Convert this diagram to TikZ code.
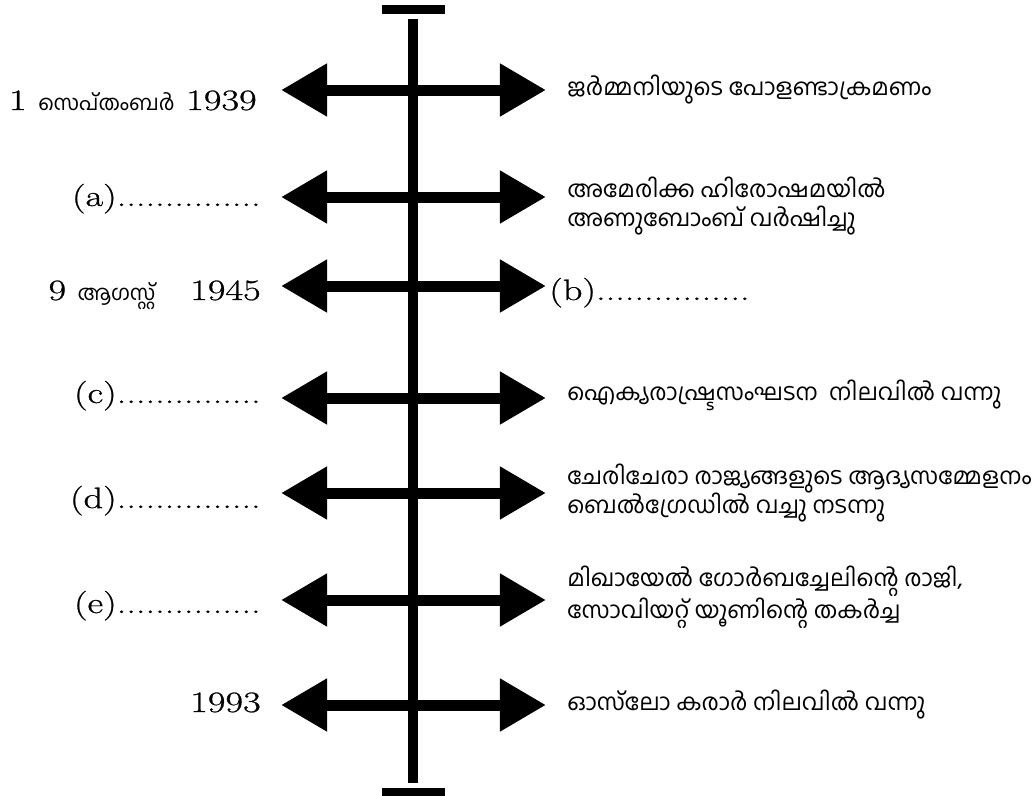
\documentclass[tikz,border=0pt]{standalone}
\usepackage{fontspec}
\setmainfont{Latin Modern Roman}[FakeStretch=1.3,FakeBold=0.8]
\newfontfamily\malfont[Script=Malayalam]{Hind Kochi}
\usetikzlibrary{arrows.meta}
\begin{document}
\begin{tikzpicture}[x=0.025cm,y=-0.025cm]
			\tikzstyle{fleche}=[{Triangle[length=1.15cm,width=1.25cm]}-{Triangle[length=1.15cm,width=1.25cm]},line width=0.275cm]
			\tikzstyle{axe}=[line width=0.24cm]
			\tikzstyle{date}=[anchor=base east,inner sep=0pt,font=\fontsize{21}{25}\selectfont]
			\tikzstyle{evenement}=[anchor=west,inner sep=0pt,align=left,font=\malfont\fontsize{16.5}{21}\selectfont]
			\def\Gauche{281}\def\Droite{546}\def\TexteG{261}\def\TexteD{567}
			\def\mois#1{{\malfont\fontsize{15}{18}\selectfont #1}}
			%
			\useasboundingbox (0,0) rectangle (1034,796);
			\fill (382,5) rectangle (445,14);
			\fill (382,788) rectangle (445,796);
			\coordinate (Haut) at (413,19);
			\coordinate (Bas) at (413,783);
			\draw[axe] (Haut)--(Bas);
			%
			\coordinate (G1) at (\Gauche,90);\coordinate (D1) at (\Droite,90);
			\coordinate (G2) at (\Gauche,197);\coordinate (D2) at (\Droite,197);
			\coordinate (G3) at (\Gauche,286);\coordinate (D3) at (\Droite,286);
			\coordinate (G4) at (\Gauche,398);\coordinate (D4) at (\Droite,398);
			\coordinate (G5) at (\Gauche,493);\coordinate (D5) at (\Droite,493);
			\coordinate (G6) at (\Gauche,600);\coordinate (D6) at (\Droite,600);
			\coordinate (G7) at (\Gauche,705);\coordinate (D7) at (\Droite,705);
			%
			\draw[fleche] (G1)--(D1);
			\draw[fleche] (G2)--(D2);
			\draw[fleche] (G3)--(D3);
			\draw[fleche] (G4)--(D4);
			\draw[fleche] (G5)--(D5);
			\draw[fleche] (G6)--(D6);
			\draw[fleche] (G7)--(D7);
			%
			\node[date] (T1) at (257,110) {1 \mois{സെപ്തംബർ} 1939};
			\node[date] (T2) at (\TexteG,206) {(a)...............};
			\node[date] (T3) at (\TexteG,300) {9 \mois{ആഗസ്റ്റ്}\ \ \ 1945};
			\node[date] (T4) at (\TexteG,403) {(c)...............};
			\node[date] (T5) at (\TexteG,508) {(d)...............};
			\node[date] (T6) at (\TexteG,613) {(e)...............};
			\node[date] (T7) at (\TexteG,712) {1993};
			%
			\node[evenement] (E1) at (\TexteD,90) {ജർമ്മനിയുടെ പോളണ്ടാക്രമണം};
			\node[evenement] (E2) at (\TexteD,206) {അമേരിക്ക ഹിരോഷമയിൽ\\അണുബോംബ് വർഷിച്ചു};
			\node[date,anchor=base west] (E3) at (549,300) {(b)................};
			\node[evenement] (E4) at (\TexteD,395) {ഐക്യരാഷ്ട്രസംഘടന\ \ നിലവിൽ വന്നു};
			\node[evenement] (E5) at (\TexteD,493) {ചേരിചേരാ രാജ്യങ്ങളുടെ ആദ്യസമ്മേളനം\\ബെൽഗ്രേഡിൽ വച്ചു നടന്നു};
			\node[evenement] (E6) at (\TexteD,597) {മിഖായേൽ ഗോർബച്ചേലിന്റെ രാജി,\\സോവിയറ്റ് യൂണിന്റെ തകർച്ച};
			\node[evenement] (E7) at (\TexteD,705) {ഓസ്‌ലോ കരാർ നിലവിൽ വന്നു};
		\end{tikzpicture}
\end{document}
